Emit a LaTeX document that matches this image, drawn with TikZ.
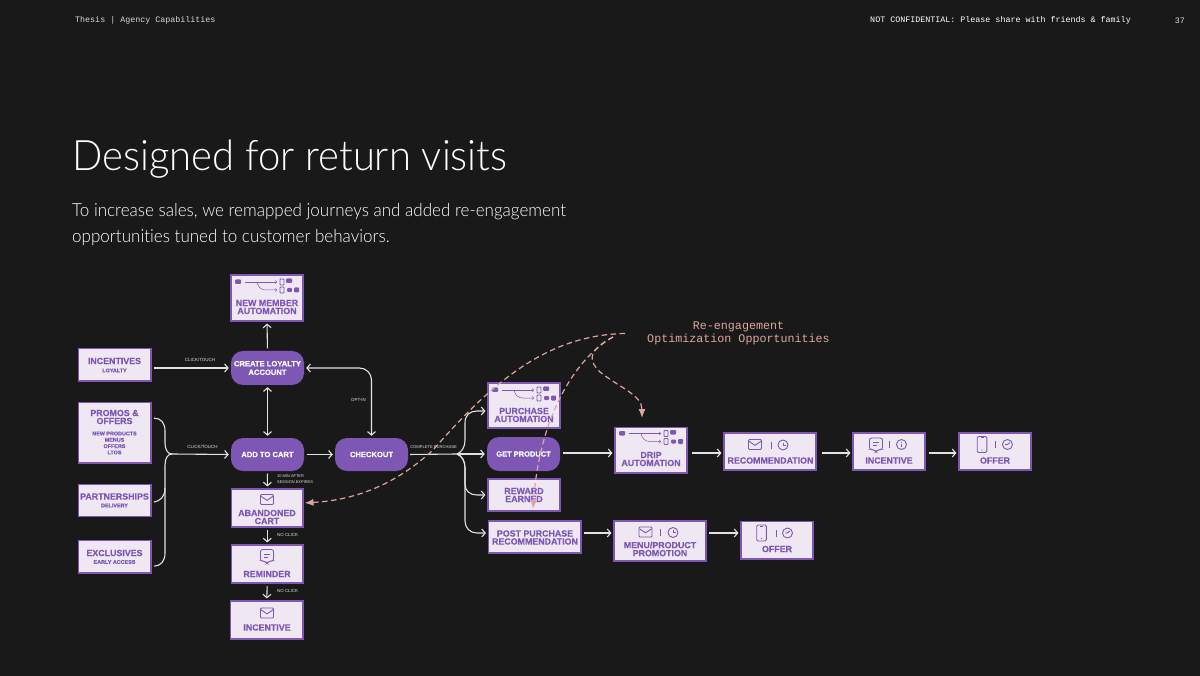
\documentclass[tikz,border=0pt]{standalone}
\usepackage{fontspec}
\setmainfont{Liberation Sans}
\newfontfamily\monof{Liberation Mono}
\newfontfamily\titlef[Ligatures=NoCommon,FakeStretch=0.952]{Lato Light}
\newfontfamily\lightf[Ligatures=NoCommon,FakeStretch=0.945]{Lato Light}
\newfontfamily\heavyf[UprightFont=* Bold,UprightFeatures={FakeBold=0.35}]{Liberation Sans}
\usetikzlibrary{arrows.meta,calc,positioning}
\definecolor{bgc}{HTML}{191919}
\definecolor{purp}{HTML}{7E57B5}
\definecolor{boxf}{HTML}{EFE8F3}
\definecolor{pinkc}{HTML}{DCA69F}
\definecolor{linec}{HTML}{E2E2E2}
\tikzset{
  x=1pt,y=-1pt,
  boxn/.style={draw=purp,fill=boxf,line width=1.1pt,inner sep=0pt,rectangle},
  pilln/.style={fill=purp,rounded corners=12pt,inner sep=0pt,rectangle},
  boxt/.style={text=purp,font=\heavyf\fontsize{8.85}{8}\selectfont,align=center,inner sep=0pt},
  subt/.style={text=purp,font=\heavyf\fontsize{5.4}{6.3}\selectfont,align=center,inner sep=0pt},
  conl/.style={text=linec,font=\fontsize{4.4}{6}\selectfont,inner sep=0pt,align=left},
  flow/.style={draw=linec,line width=1.1pt,-{Straight Barb[length=3.5pt,width=8pt,line width=1.1pt]},shorten >=2pt,shorten <=2.5pt},
  plainflow/.style={draw=linec,line width=1.1pt},
  twoway/.style={draw=linec,line width=1.1pt,{Straight Barb[length=3.5pt,width=8pt,line width=1.1pt]}-{Straight Barb[length=3.5pt,width=8pt,line width=1.1pt]},shorten >=2pt,shorten <=2pt},
  reeng/.style={draw=pinkc,line width=1.2pt,dash pattern=on 5.5pt off 3.5pt},
  reengtip/.style={reeng,-{Latex[length=9pt,width=7pt]}},
  icon/.style={draw=purp,line width=0.9pt,fill=none},
  mail/.pic={\draw[icon,rounded corners=1pt] (-6.5,-5) rectangle (6.5,5);\draw[icon] (-6,-3.2)--(0,0.8)--(6,-3.2);},
  clock/.pic={\draw[icon] (0,0) circle (5);\draw[icon] (0,-2.5)--(0,0)--(2.5,0);},
  clockb/.pic={\draw[icon] (0,0) circle (5);\draw[icon] (2.5,-2)--(0,0)--(-2.5,0);},
  infoc/.pic={\draw[icon] (0,0) circle (5);\draw[icon] (0,-0.5)--(0,2.8);\fill[purp] (0,-2.2) circle (0.6);},
  chat/.pic={\draw[icon,rounded corners=2.2pt] (-6.5,-6.5) -- (6.5,-6.5) -- (6.5,5) -- (2.5,5) -- (0,7.5) -- (-2.5,5) -- (-6.5,5) -- cycle;\draw[icon] (-3,-2)--(3,-2);\draw[icon] (-3,1)--(1,1);},
  phone/.pic={\draw[icon,rounded corners=1.2pt] (-4.8,-8) rectangle (4.8,8);\draw[icon] (-1.5,-7)--(1.5,-7);\fill[purp] (0,5.5) circle (0.6);},
  miniflow/.pic={
    \fill[purp,rounded corners=1pt] (4,4.5) rectangle (10,9);
    \draw[purp,line width=.5pt,-{Straight Barb[length=1.5pt,width=3pt,line width=.5pt]}] (14,7)--(46,7);
    \draw[purp,line width=.5pt,-{Straight Barb[length=1.5pt,width=3pt,line width=.5pt]}] (26,7) .. controls (27,12) and (30,15) .. (35,15) -- (46,15);
    \draw[purp,line width=.8pt,rounded corners=.8pt] (49,4) rectangle (53,10);
    \fill[purp,rounded corners=1pt] (55,3.5) rectangle (61,8);
    \draw[purp,line width=.8pt,rounded corners=.8pt] (49,12) rectangle (53,18);
    \fill[purp,rounded corners=1pt] (56,13) rectangle (61,17);
    \fill[purp,rounded corners=1pt] (63,12.5) rectangle (68,17.5);
  },
  sepbar/.pic={\draw[purp,line width=.7pt] (0,-3.5)--(0,3.5);}
}
% name, x1, y1, x2, y2
\newcommand{\bxn}[5]{\node[boxn,minimum width=#4pt-#2pt,minimum height=#5pt-#3pt] (#1) at ({(#2+#4)/2},{(#3+#5)/2}) {};}
\newcommand{\pln}[6]{\node[pilln,minimum width=#4pt-#2pt,minimum height=#5pt-#3pt,text=white,font=\heavyf\fontsize{7.6}{8.6}\selectfont,align=center] (#1) at ({(#2+#4)/2},{(#3+#5)/2}) {#6};}
\begin{document}
\begin{tikzpicture}
\useasboundingbox (0,0) rectangle (1200,676);
\fill[bgc] (0,0) rectangle (1200,676);
% header
\node[anchor=west,inner sep=0pt,text=white!85!black,font=\monof\fontsize{8.35}{10}\selectfont] (hleft) at (75,20.5) {Thesis | Agency Capabilities};
\node[anchor=east,inner sep=0pt,text=white,font=\monof\fontsize{8.35}{10}\selectfont] (hright) at (1131,20.5) {NOT CONFIDENTIAL: Please share with friends \& family};
\node[anchor=east,inner sep=0pt,text=white!85!black,font=\monof\fontsize{8.35}{10}\selectfont] (hpage) at (1185,20.5) {37};
% title
\node[anchor=base west,inner sep=0pt,text=white,font=\titlef\fontsize{42}{48}\selectfont] (title) at (72,171) {Designed for return visits};
\node[anchor=base west,inner sep=0pt,text=white,font=\lightf\fontsize{18}{26}\selectfont] (sub1) at (72,216.5) {To increase sales, we remapped journeys and added re-engagement};
\node[anchor=base west,inner sep=0pt,text=white,font=\lightf\fontsize{18}{26}\selectfont] (sub2) at (72,242.5) {opportunities tuned to customer behaviors.};
% boxes
\bxn{newm}{231}{275}{303}{321}
\bxn{incl}{78.5}{348.5}{151}{381}
\bxn{promos}{78.5}{402.5}{151}{463}
\bxn{partn}{78.5}{484.5}{151}{516.5}
\bxn{excl}{78.5}{540.5}{151}{573}
\bxn{aband}{231.5}{489}{303}{527}
\bxn{remind}{231.5}{545}{303}{583}
\bxn{incv}{230.5}{601}{303}{639}
\bxn{purch}{488}{383}{560}{428}
\bxn{reward}{488}{479}{560}{511}
\bxn{post}{488.5}{521}{581}{553}
\bxn{menu}{614}{521}{706}{561}
\bxn{offerb}{741}{521.5}{813}{559}
\bxn{drip}{615}{427.5}{687}{473}
\bxn{recom}{724}{433}{816}{470}
\bxn{incr}{853}{433}{925}{470}
\bxn{offerr}{959}{433}{1031}{470}
\pln{create}{231}{351}{304}{385}{CREATE LOYALTY\\ACCOUNT}
\pln{addc}{231}{438}{304}{471}{ADD TO CART}
\pln{chk}{335}{438}{408}{471}{CHECKOUT}
\pln{getp}{487}{437}{560}{471}{\fontsize{7.5}{9}\selectfont GET PRODUCT}
% box text
\node[boxt] (tnewm) at (267,307) {NEW MEMBER\\AUTOMATION};
\node[boxt] (tincl) at (114.5,361) {INCENTIVES};
\node[subt] (sincl) at (114.5,370.5) {LOYALTY};
\node[boxt] (tpromos) at (114.5,417) {PROMOS \&\\OFFERS};
\node[subt] (spromos) at (114.5,443) {NEW PRODUCTS\\MENUS\\OFFERS\\LTOS};
\node[boxt] (tpartn) at (114.5,496.5) {PARTNERSHIPS};
\node[subt] (spartn) at (114.5,505.5) {DELIVERY};
\node[boxt] (texcl) at (114.5,553) {EXCLUSIVES};
\node[subt] (sexcl) at (114.5,562) {EARLY ACCESS};
\node[boxt] (taband) at (267,517) {ABANDONED\\CART};
\node[boxt] (tremind) at (267,574) {REMINDER};
\node[boxt] (tincv) at (267,627.5) {INCENTIVE};
\node[boxt] (tpurch) at (524,415) {PURCHASE\\AUTOMATION};
\node[boxt] (treward) at (524,495) {REWARD\\EARNED};
\node[boxt] (tpost) at (535,537.5) {POST PURCHASE\\RECOMMENDATION};
\node[boxt] (tmenu) at (660,549) {MENU/PRODUCT\\PROMOTION};
\node[boxt] (tofferb) at (777,549) {OFFER};
\node[boxt] (tdrip) at (651,459) {DRIP\\AUTOMATION};
\node[boxt] (trecom) at (770.5,460.5) {RECOMMENDATION};
\node[boxt] (tincr) at (889,460.5) {INCENTIVE};
\node[boxt] (tofferr) at (995,460.5) {OFFER};
% icons
\pic at (231,275) {miniflow};
\pic at (488,383) {miniflow};
\pic at (615,426.5) {miniflow};
\pic at (267,499.5) {mail};
\pic at (267,556) {chat};
\pic at (267,613) {mail};
\pic at (755,444.5) {mail}; \pic at (771,445) {sepbar}; \pic at (783,445) {clock};
\pic at (876,444.5) {chat}; \pic at (889,444) {sepbar}; \pic at (901.5,444.5) {infoc};
\pic at (982,444.5) {phone}; \pic at (995,444.5) {sepbar}; \pic at (1007.5,444.5) {clockb};
\pic at (645.5,532) {mail}; \pic at (660.5,532.5) {sepbar}; \pic at (673,532.5) {clock};
\pic at (761.5,533) {phone}; \pic at (776,533.5) {sepbar}; \pic at (787.5,533) {clockb};
% connectors
\draw[flow] (incl.east |- create.west) -- (create.west);
\draw[flow] (create.north) -- (newm.south);
\draw[twoway] (create.south) -- (addc.north);
\draw[twoway,rounded corners=12pt] (chk.north) |- (create.east);
\draw[flow] (addc.east) -- (chk.west);
\draw[flow] (addc.south) -- (aband.north);
\draw[flow] (aband.south) -- (remind.north);
\draw[flow] (remind.south) -- (incv.north);
\coordinate (hubl) at (172,454);
\draw[flow,shorten <=0pt] (hubl) -- (addc.west);
\draw[plainflow,shorten <=2.5pt] ($(promos.east)+(0,-14.5)$) .. controls (161,418) and (165,423) .. (165,431) -- (165,443) .. controls (165,450) and (168,454) .. (hubl);
\draw[plainflow,shorten <=2.5pt] ($(partn.east)+(0,2)$) .. controls (160,501) and (165,497) .. (165,488) -- (165,465) .. controls (165,458) and (168,454) .. (hubl);
\draw[plainflow,shorten <=2.5pt] ($(excl.east)+(0,9.5)$) .. controls (161,566) and (165,561) .. (165,553) -- (165,488);
\coordinate (hubr) at (457,454);
\draw[plainflow,shorten <=2pt] (chk.east) -- (hubr);
\draw[flow,shorten <=0pt] (hubr) -- (getp.west);
\draw[flow,shorten <=0pt] (hubr) .. controls (462,452) and (465,447) .. (465,440) -- (465,423) .. controls (465,415) and (470,411) .. (477,411) -- ($(purch.west)+(0,5.5)$);
\draw[flow,shorten <=0pt] (hubr) .. controls (462,456) and (465,461) .. (465,468) -- (465,484) .. controls (465,491) and (470,495) .. (477,495) -- (reward.west);
\draw[flow,shorten <=0pt] (hubr) .. controls (462,456) and (465,461) .. (465,468) -- (465,521) .. controls (465,528) and (470,533) .. (477,533) -- ($(post.west)+(0,-4)$);
\draw[flow] (post.east |- 0,533) -- (menu.west |- 0,533);
\draw[flow] (menu.east |- 0,533) -- (offerb.west |- 0,533);
\draw[flow,shorten <=3pt] (getp.east |- 0,453) -- (drip.west |- 0,453);
\draw[flow,shorten <=4pt] (drip.east |- 0,453) -- (recom.west |- 0,453);
\draw[flow,shorten <=5pt] (recom.east |- 0,453) -- (incr.west |- 0,453);
\draw[flow,shorten <=3pt] (incr.east |- 0,453) -- (offerr.west |- 0,453);
% connector labels
\node[conl,anchor=center,font=\fontsize{4.5}{6}\selectfont] (lb1) at (200,360) {CLICK/TOUCH};
\node[conl,anchor=center,font=\fontsize{4.5}{6}\selectfont] (lb2) at (202.5,447) {CLICK/TOUCH};
\node[conl,anchor=center] (lb3) at (358.5,400) {OPT-IN};
\node[conl,anchor=center,font=\fontsize{4.1}{6}\selectfont] (lb4) at (433.5,447) {COMPLETE PURCHASE};
\node[conl,anchor=west,font=\fontsize{3.95}{6}\selectfont] (lb5) at (277,479) {10 MIN AFTER\\SESSION EXPIRES};
\node[conl,anchor=west] (lb6) at (277,534.5) {NO CLICK};
\node[conl,anchor=west] (lb7) at (277,591) {NO CLICK};
% re-engagement
\node[inner sep=0pt,text=pinkc,align=center,font=\monof\fontsize{11.7}{13.5}\selectfont] (reen) at (738.5,333.5) {Re-engagement\\Optimization Opportunities};
\coordinate (rs) at (625,333.5);
\coordinate (rb) at (613,337);
\draw[reengtip,shorten >=1pt] (rs) .. controls (545,335) and (490,385) .. (433,450) .. controls (395,485) and (355,500) .. ($(aband.east)+(0,-5)$);
\draw[reengtip] (rb) .. controls (580,355) and (540,410) .. (533,509);
\draw[reengtip] (rb) .. controls (585,352) and (590,362) .. (600,372) .. controls (620,388) and (642,395) .. (642,418);
\end{tikzpicture}
\end{document}
